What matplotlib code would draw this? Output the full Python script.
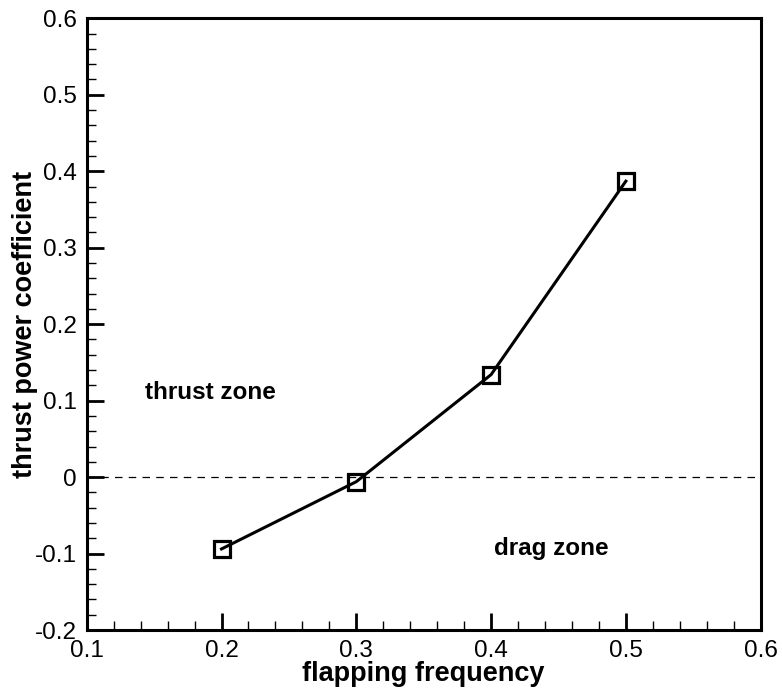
import matplotlib
matplotlib.use("Agg")
import matplotlib.pyplot as plt
from matplotlib.ticker import MultipleLocator

plt.rcParams['font.family'] = ['Liberation Sans', 'DejaVu Sans']

frequency = [0.2, 0.3, 0.4, 0.5]
thrust_power = [-0.094, -0.006, 0.134, 0.387]

fig = plt.figure(figsize=(7.82, 6.96), dpi=100)
ax = fig.add_axes([0.1109, 0.0948, 0.8618, 0.8789])

ax.axhline(0, color='black', lw=0.9, ls=(0, (6, 5)), zorder=1)
ax.plot(frequency, thrust_power, color='black', lw=2.2, marker='s', markersize=11.5,
        markerfacecolor='none', markeredgecolor='black', markeredgewidth=2.3, zorder=3)

ax.set_xlim(0.1, 0.6)
ax.set_ylim(-0.2, 0.6)
ax.xaxis.set_major_locator(MultipleLocator(0.1))
ax.yaxis.set_major_locator(MultipleLocator(0.1))
ax.xaxis.set_minor_locator(MultipleLocator(0.02))
ax.yaxis.set_minor_locator(MultipleLocator(0.02))
fmt = plt.FuncFormatter(lambda v, p: f"{v:.1f}" if abs(v) > 1e-9 else "0")
ax.xaxis.set_major_formatter(fmt)
ax.yaxis.set_major_formatter(fmt)

ax.tick_params(which='both', direction='in', top=False, right=False, labelsize=17.5, pad=7)
ax.tick_params(which='major', length=12, width=2.0)
ax.tick_params(which='minor', length=6.5, width=1.0)
for s in ax.spines.values():
    s.set_linewidth(2.2)

ax.set_xlabel('flapping frequency', fontsize=19.5, fontweight='bold')
ax.set_ylabel('thrust power coefficient', fontsize=19.5, fontweight='bold')
ax.yaxis.set_label_coords(-0.073, 0.5)
ax.xaxis.set_label_coords(0.5, -0.05)

ax.text(0.1915, 0.11, 'thrust zone', fontsize=17.5, fontweight='bold', ha='center', va='center')
ax.text(0.445, -0.093, 'drag zone', fontsize=17.5, fontweight='bold', ha='center', va='center')

fig.savefig('out.png', dpi=100)
